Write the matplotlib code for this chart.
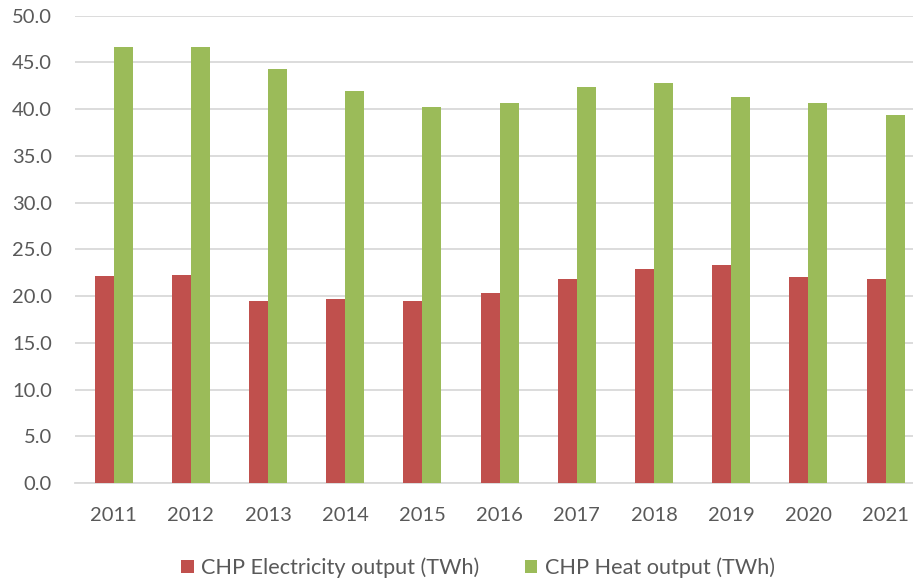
import matplotlib
matplotlib.use("Agg")
import matplotlib.pyplot as plt
import numpy as np

years = ["2011", "2012", "2013", "2014", "2015", "2016", "2017", "2018", "2019", "2020", "2021"]
electricity = [22.1, 22.3, 19.5, 19.7, 19.5, 20.3, 21.8, 22.9, 23.3, 22.0, 21.8]
heat = [46.7, 46.7, 44.3, 41.9, 40.2, 40.7, 42.4, 42.8, 41.3, 40.7, 39.4]
series_names = ["CHP Electricity output (TWh)", "CHP Heat output (TWh)"]
yticks = [0, 5, 10, 15, 20, 25, 30, 35, 40, 45, 50]

plt.rcParams['font.family'] = ['Lato', 'DejaVu Sans']
W, H = 913, 581
fig = plt.figure(figsize=(W / 100, H / 100), dpi=100)
left, right, top, bottom = 75, 924.2, 15.7, 483
ax = fig.add_axes([left / W, 1 - bottom / H, (right - left) / W, (bottom - top) / H])

x = np.arange(len(years))
bw = 0.246
red = "#C0504D"
green = "#9BBB59"
ax.bar(x - bw / 2, electricity, bw, color=red, label=series_names[0], zorder=3)
ax.bar(x + bw / 2, heat, bw, color=green, label=series_names[1], zorder=3)

ax.set_xlim(-0.5, len(years) - 0.5)
ax.set_ylim(0, 50)
ax.set_yticks(yticks)
ax.set_yticklabels([f"{v:.1f}" for v in yticks])
ax.set_xticks(x)
ax.set_xticklabels(years)
ax.yaxis.grid(True, color="#D9D9D9", linewidth=1.3, zorder=0)
ax.set_axisbelow(True)
for s in ["top", "right", "left"]:
    ax.spines[s].set_visible(False)
ax.spines["bottom"].set_color("#D9D9D9")
ax.spines["bottom"].set_linewidth(1.3)
ax.tick_params(axis="both", length=0, colors="#595959", labelsize=14.5)
ax.tick_params(axis="y", pad=16.5)
ax.tick_params(axis="x", pad=17)

leg = fig.legend(loc="center", bbox_to_anchor=(478 / W, 1 - 568 / H), ncol=2, frameon=False,
                 fontsize=15.6, handlelength=0.56, handleheight=0.56, handletextpad=0.35,
                 columnspacing=2.1, labelcolor="#595959")

fig.savefig("out.png", dpi=100)
